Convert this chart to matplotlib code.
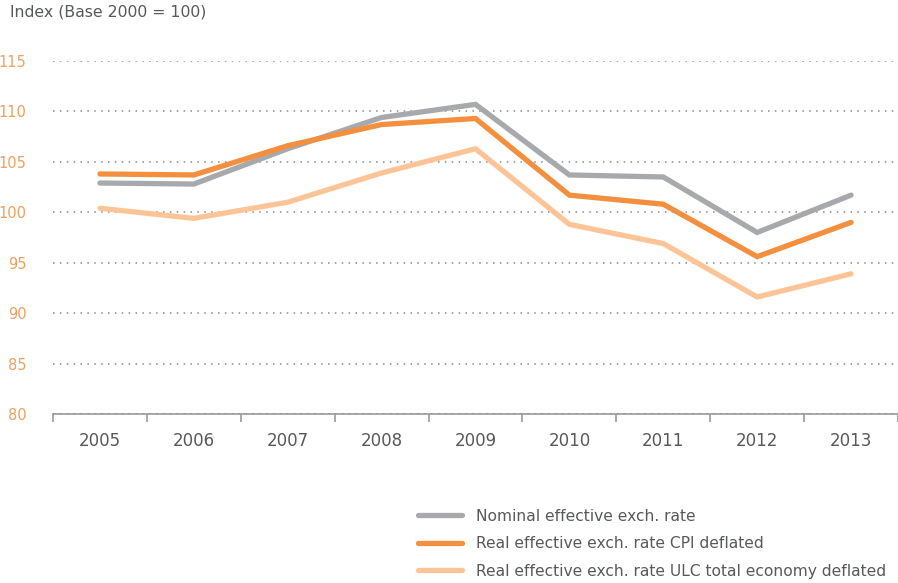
import numpy as np
import matplotlib
matplotlib.use("Agg")
import matplotlib.pyplot as plt

years = ["2005", "2006", "2007", "2008", "2009", "2010", "2011", "2012", "2013"]
nominal = [102.9, 102.8, 106.3, 109.4, 110.7, 103.7, 103.5, 98.0, 101.7]
real_cpi = [103.8, 103.7, 106.6, 108.7, 109.3, 101.7, 100.8, 95.6, 99.0]
real_ulc = [100.4, 99.4, 101.0, 103.9, 106.3, 98.8, 96.9, 91.6, 93.9]
labels = ["Nominal effective exch. rate",
          "Real effective exch. rate CPI deflated",
          "Real effective exch. rate ULC total economy deflated"]
y_ticks = [80, 85, 90, 95, 100, 105, 110, 115]

GRAY = "#a7a9ac"
ORANGE = "#f38f3e"
LIGHT = "#fdc597"
TEXT = "#58595b"
TICK = "#f0a060"

plt.rcParams["font.family"] = ["DejaVu Sans"]

fig = plt.figure(figsize=(8.98, 5.83), dpi=100)
ax = fig.add_axes([53 / 898, (583 - 414) / 583, 845 / 898, 353 / 583])

x = np.arange(len(years))
lines = []
for vals, col in zip([nominal, real_cpi, real_ulc], [GRAY, ORANGE, LIGHT]):
    ln, = ax.plot(x, vals, color=col, lw=3.8, solid_capstyle="round",
                  solid_joinstyle="miter")
    lines.append(ln)

ax.set_xlim(-0.5, len(years) - 0.5)
ax.set_ylim(80, 115)
ax.set_yticks(y_ticks)
ax.set_yticklabels([str(v) for v in y_ticks], color=TICK, fontsize=10.5)
ax.tick_params(axis="y", length=0, pad=19)

ax.grid(axis="y", color="#8a8a8a", linestyle=(0, (1, 3.5)), lw=1.1)
ax.set_axisbelow(True)

# band boundaries as major ticks, labels at centers as minor ticks
ax.set_xticks(np.arange(-0.5, len(years), 1.0))
ax.set_xticklabels([])
ax.tick_params(axis="x", which="major", length=6, color="#9a9a9a", width=1.2)
ax.set_xticks(x, minor=True)
ax.set_xticklabels(years, minor=True, color=TEXT, fontsize=12)
ax.tick_params(axis="x", which="minor", length=0, pad=13)

for s in ["left", "right", "top"]:
    ax.spines[s].set_visible(False)
ax.spines["bottom"].set_color("#9a9a9a")
ax.spines["bottom"].set_linewidth(1.2)
ax.spines["bottom"].set_zorder(0)

fig.text(10 / 898, 1 - 12 / 583, "Index (Base 2000 = 100)", color=TEXT,
         fontsize=11.3, va="center", ha="left")

fig.legend(lines, labels, loc="upper left", bbox_to_anchor=(410 / 898, 1 - 501 / 583),
           frameon=False, fontsize=11.2, labelcolor=TEXT, handlelength=2.85,
           handletextpad=0.9, labelspacing=0.8, borderpad=0)

fig.savefig("out.png", dpi=100)
